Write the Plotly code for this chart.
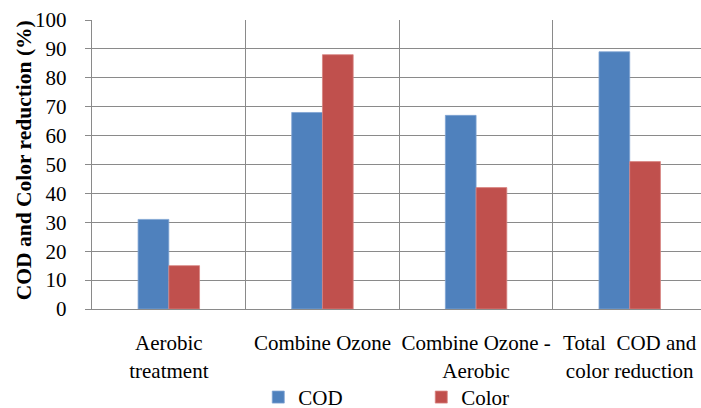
import plotly.graph_objects as go

# Treatment stages and measured reductions (%)
categories = ["Aerobic<br>treatment", "Combine Ozone", "Combine Ozone -<br>Aerobic",
              "Total  COD and<br>color reduction"]
cod_reduction = [31, 68, 67, 89]
color_reduction = [15, 88, 42, 51]
series_names = ["COD", "Color"]
y_ticks = [0, 10, 20, 30, 40, 50, 60, 70, 80, 90, 100]

BLUE = "#4F81BD"
RED = "#C0504D"
GRID = "#8A8A8A"
SERIF = "Liberation Serif"
TEXT_FONT = dict(family=SERIF, size=21, color="black", weight="normal")

fig = go.Figure()
fig.add_trace(go.Bar(x=categories, y=cod_reduction, name=series_names[0],
                     marker=dict(color=BLUE, line=dict(color="#7FA3D3", width=0.8))))
fig.add_trace(go.Bar(x=categories, y=color_reduction, name=series_names[1],
                     marker=dict(color=RED, line=dict(color="#D88482", width=0.8))))

fig.update_layout(
    width=701, height=408,
    margin=dict(l=92, r=0, t=20, b=99, autoexpand=False),
    paper_bgcolor="white", plot_bgcolor="white",
    barmode="group", bargap=0.6, bargroupgap=0,
    font=TEXT_FONT,
    showlegend=True,
    legend=dict(orientation="h", x=0.273, xanchor="left", y=-0.306, yanchor="middle",
                font=TEXT_FONT, itemwidth=30, entrywidth=118,
                bgcolor="rgba(0,0,0,0)"),
)

fig.update_xaxes(
    type="category", range=[-0.5, 3.464], automargin=False,
    tickson="boundaries", ticks="", tickangle=0,
    showgrid=True, gridcolor=GRID, gridwidth=1.4,
    showline=True, linecolor=GRID, linewidth=1.4,
    tickfont=TEXT_FONT, ticklabelstandoff=15,
)
fig.update_yaxes(
    range=[0, 100], tickvals=y_ticks, automargin=False,
    ticks="outside", ticklen=6, tickcolor=GRID, tickwidth=1.4,
    showgrid=True, gridcolor=GRID, gridwidth=1.4,
    showline=True, linecolor=GRID, linewidth=1.4, zeroline=False,
    tickfont=TEXT_FONT, ticklabelstandoff=14,
)

fig.add_annotation(
    text="<b>COD and Color reduction (%)</b>", textangle=-90,
    xref="paper", yref="paper", x=0, y=0.515, xshift=-68,
    xanchor="center", yanchor="middle", showarrow=False,
    font=dict(family=SERIF, size=21.5, color="black"),
)

fig.write_html("out.html")
